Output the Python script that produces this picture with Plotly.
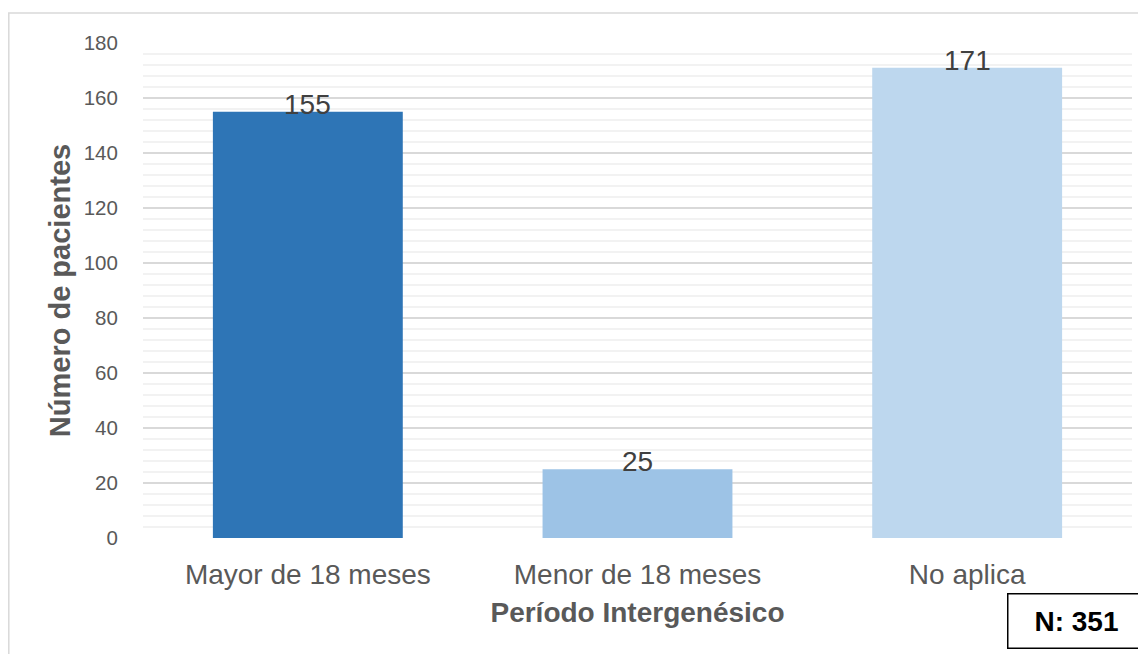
import plotly.graph_objs as go

# chart data
categorias = ["Mayor de 18 meses", "Menor de 18 meses", "No aplica"]
pacientes = [155, 25, 171]
total_n = 351

bar_colors = ["#2E75B6", "#9DC3E6", "#BDD7EE"]
FONT = "Arial, Liberation Sans, sans-serif"

# the page body adds an 8px margin, so the figure is 8px smaller
OFF = 8
W, H = 1146 - OFF, 654 - OFF
L, R, T, B = 135, 14, 35, 116
pw, ph = W - L - R, H - T - B


def px_x(px):
    # page pixel -> paper x
    return (px - OFF - L) / pw


def px_y(py):
    # page pixel -> paper y
    return (H - B - (py - OFF)) / ph


fig = go.Figure(
    go.Bar(
        x=categorias,
        y=pacientes,
        marker=dict(color=bar_colors, line=dict(width=0)),
        hoverinfo="x+y",
    )
)

# data labels sit on the bar top, slightly overlapping like Excel
for cat, val in zip(categorias, pacientes):
    fig.add_annotation(
        x=cat, y=val, text=str(val), showarrow=False,
        yanchor="bottom", yshift=-10,
        font=dict(family=FONT, size=28, color="#404040"),
    )

# "N" box in the lower right corner
fig.add_annotation(
    xref="paper", yref="paper", x=px_x(1076), y=px_y(620.5),
    text=f"<b>N: {total_n}</b>", showarrow=False,
    xanchor="center", yanchor="middle",
    width=134, height=51, bordercolor="#000000", borderwidth=1.5,
    bgcolor="#FFFFFF", font=dict(family=FONT, size=28, color="#000000"),
)

# chart frame
fig.add_shape(
    type="rect", xref="paper", yref="paper",
    x0=px_x(8.8), x1=px_x(1170), y0=px_y(13), y1=px_y(680),
    line=dict(color="#D9D9D9", width=1.5), layer="below",
)

fig.update_layout(
    width=W, height=H,
    margin=dict(l=L, r=R, t=T, b=B),
    paper_bgcolor="white", plot_bgcolor="white",
    bargap=0.424, showlegend=False,
    font=dict(family=FONT, color="#595959"),
    xaxis=dict(
        showgrid=False, showline=False, zeroline=False,
        ticks="outside", ticklen=11, tickcolor="rgba(0,0,0,0)",
        tickfont=dict(size=28, color="#595959"),
        title=dict(text="<b>Período Intergenésico</b>", standoff=13,
                   font=dict(size=28, color="#595959")),
    ),
    yaxis=dict(
        range=[0, 180], dtick=20, showline=False, zeroline=False,
        gridcolor="#D9D9D9", gridwidth=1.5,
        minor=dict(dtick=4, showgrid=True, gridcolor="#F2F2F2", gridwidth=1.5),
        ticks="outside", ticklen=20, tickcolor="rgba(0,0,0,0)",
        tickfont=dict(size=20.5, color="#595959"),
        title=dict(text="<b>Número de pacientes</b>", standoff=4,
                   font=dict(size=29, color="#595959")),
    ),
)

fig.write_html("out.html")
